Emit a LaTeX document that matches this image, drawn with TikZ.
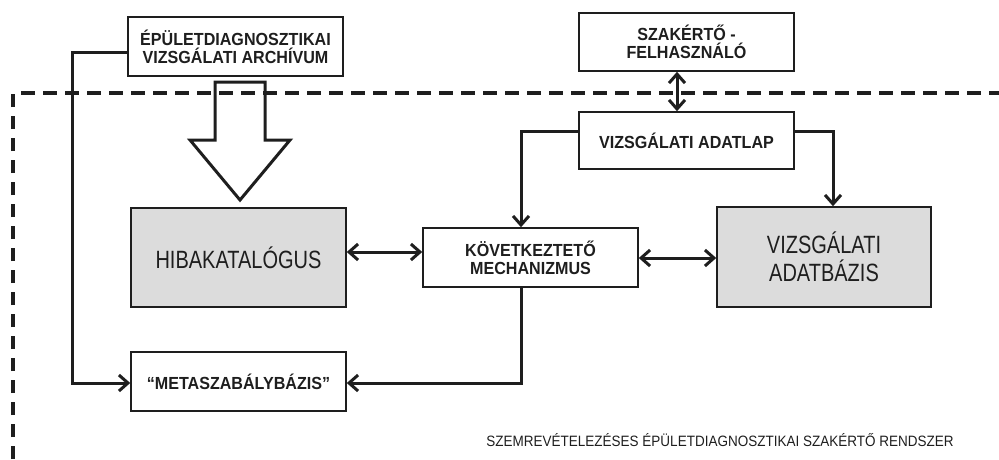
\documentclass[tikz,border=0pt]{standalone}
\usepackage{fontspec}
\setmainfont{Liberation Sans}
\newfontfamily\condfont[FakeStretch=0.8]{Liberation Sans}
\newfontfamily\captfont[FakeStretch=0.9]{Liberation Sans}
\newfontfamily\boldcond[FakeStretch=0.92]{Liberation Sans}
\usetikzlibrary{arrows.meta,calc}
\definecolor{ink}{HTML}{1E1E1E}
\definecolor{boxgray}{HTML}{DCDCDC}
\tikzset{
  box/.style={draw=ink,line width=1.6pt,fill=white,minimum width=215pt,inner sep=0pt,align=center,text=ink,font=\boldcond\fontsize{17.5}{18}\selectfont\bfseries},
  graybox/.style={box,fill=boxgray,font=\condfont\fontsize{25}{28}\selectfont},
  conn/.style={draw=ink,line width=3pt,arrows={-Straight Barb[length=9pt,width=16pt]}},
  dconn/.style={conn,arrows={Straight Barb[length=9pt,width=16pt]-Straight Barb[length=9pt,width=16pt]}},
  border/.style={draw=ink,line width=3.5pt,dash pattern=on 13.5pt off 8.5pt},
}
\begin{document}
\begin{tikzpicture}[x=1pt,y=-1pt]
\useasboundingbox (0,0) rectangle (999,459);
% nodes
\node[box,minimum height=59pt] (arch) at (235.5,46.5) {ÉPÜLETDIAGNOSZTIKAI\\VIZSGÁLATI ARCHÍVUM};
\node[box,minimum height=58pt] (szak) at (686.5,42) {SZAKÉRTŐ -\\FELHASZNÁLÓ};
\node[box,minimum height=57pt] (adatlap) at (686.5,140.5) {VIZSGÁLATI ADATLAP};
\node[box,minimum height=59pt] (koev) at (530.5,257.5) {KÖVETKEZTETŐ\\MECHANIZMUS};
\node[graybox,minimum height=99pt] (hiba) at (238.5,257.5) {HIBAKATALÓGUS};
\node[graybox,minimum width=214pt,minimum height=100pt] (adatb) at (824,257) {VIZSGÁLATI\\ADATBÁZIS};
\node[box,minimum height=59pt] (meta) at (238.5,381.5) {“METASZABÁLYBÁZIS”};
\node[text=ink,font=\captfont\fontsize{15}{16}\selectfont,inner sep=0pt] (title) at (720,440) {SZEMREVÉTELEZÉSES ÉPÜLETDIAGNOSZTIKAI SZAKÉRTŐ RENDSZER};
% helper coordinates
\coordinate (yA) at (0,52);
\coordinate (xA) at (72,0);
\coordinate (yM) at (0,383);
\coordinate (yL) at (0,131);
\coordinate (xL) at (521,0);
\coordinate (xR) at (833,0);
\coordinate (xD) at (677,0);
\coordinate (yH) at (0,252);
\coordinate (yV) at (0,258);
\coordinate (bendA) at (xA |- yA);
\coordinate (bendM) at (xA |- yM);
\coordinate (bendK) at (xL |- yM);
% big hollow arrow
\draw[draw=ink,line width=3pt,fill=white,line join=miter]
  (215,82) -- (265,82) -- (265,140) -- (290,140) -- (240,200) -- (190,140) -- (215,140) -- cycle;
% connectors
\draw[conn] (arch.west |- yA) -- (bendA) -- (bendM) -- (meta.west |- yM);
\draw[conn] (koev.south -| xL) -- (bendK) -- (meta.east |- yM);
\draw[conn] (adatlap.west |- yL) -| (koev.north -| xL);
\draw[conn] (adatlap.east |- yL) -| (adatb.north -| xR);
\draw[dconn] (szak.south -| xD) -- (adatlap.north -| xD);
\draw[dconn] (hiba.east |- yH) -- (koev.west |- yH);
\draw[dconn] (koev.east |- yV) -- (adatb.west |- yV);
% system border
\draw[border] (13,459) -- (13,93) -- (999,93);
\end{tikzpicture}
\end{document}
